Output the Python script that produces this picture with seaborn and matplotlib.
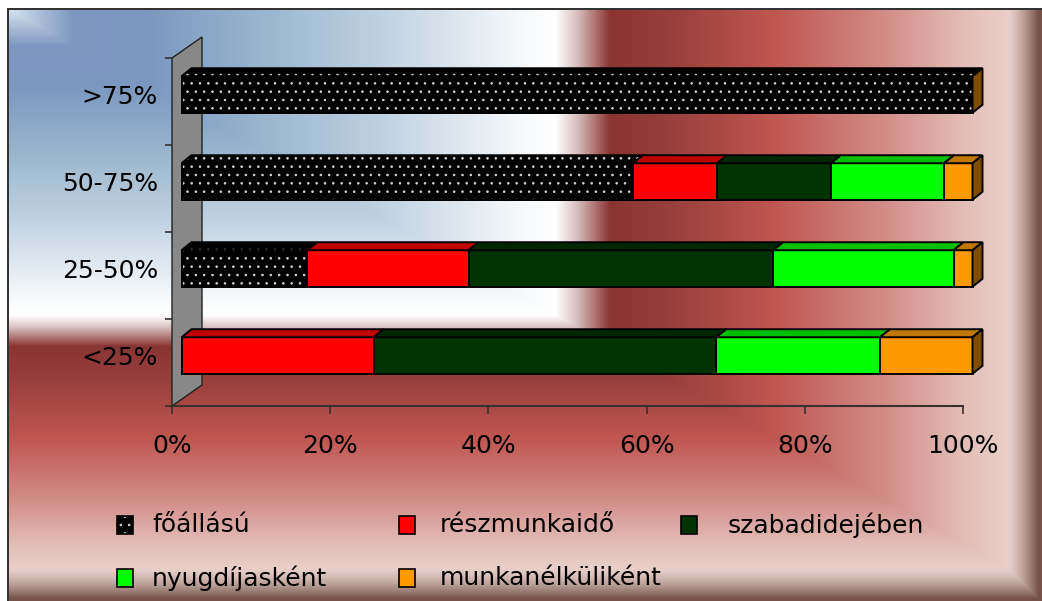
import numpy as np
import matplotlib
matplotlib.use('Agg')
import matplotlib.pyplot as plt
from matplotlib.patches import Polygon, Rectangle
from matplotlib.transforms import ScaledTranslation, IdentityTransform
import seaborn as sns

# categories (top to bottom) and stacked shares in percent
categories = [">75%", "50-75%", "25-50%", "<25%"]
series_names = ["főállású", "részmunkaidő", "szabadidejében", "nyugdíjasként", "munkanélküliként"]
foallasu = [100.0, 57.1, 15.9, 0.0]
reszmunkaido = [0.0, 10.6, 20.4, 24.3]
szabadidejeben = [0.0, 14.4, 38.5, 43.3]
nyugdijaskent = [0.0, 14.3, 22.8, 20.7]
munkanelkulikent = [0.0, 3.6, 2.4, 11.7]
x_ticks = [0, 20, 40, 60, 80, 100]
x_tick_labels = ["0%", "20%", "40%", "60%", "80%", "100%"]

front_colors = ["#000000", "#ff0000", "#003300", "#00ff00", "#ff9900"]
top_colors = ["#000000", "#c00000", "#002800", "#00c000", "#c07800"]
side_color = "#7f4c00"

W, H = 1042, 601
BAR_W = 0.42
SHIFT = (9.5, 7.0)   # bar front plane vs axis plane, pixels
DEPTH = (10.0, 8.0)  # bar depth, pixels
WALL = (30.0, 21.0)  # wall depth, pixels

sns.set_style("white")
plt.rcParams['font.family'] = ['DejaVu Sans']
plt.rcParams['text.color'] = 'black'
plt.rcParams['hatch.linewidth'] = 0.6

fig = plt.figure(figsize=(W / 100, H / 100), dpi=100)

# ---- background gradient (chart area fill) ----
yy, xx = np.mgrid[0:H, 0:W]
t = np.maximum((xx - 8) / 547.0, (yy - 9) / 306.0)
stops = [0.0, 0.12, 0.25, 0.45, 0.7, 0.93, 1.0, 1.04, 1.1, 1.2, 1.4, 1.6, 1.75, 1.9]
cols = np.array([
    (215, 228, 238), (125, 150, 192), (122, 152, 192), (150, 180, 205),
    (195, 212, 226), (245, 248, 250), (255, 255, 255), (215, 190, 190),
    (138, 52, 50), (150, 62, 58), (192, 86, 80), (210, 140, 135),
    (228, 190, 185), (238, 222, 216)], dtype=float)
rgb = np.stack([np.interp(t, stops, cols[:, k]) for k in range(3)], axis=-1) / 255.0
s = np.maximum(np.clip((xx - 1008) / 30.0, 0, 1), np.clip((yy - 568) / 30.0, 0, 1))
s = s ** 1.3
brown = np.array([118, 82, 74]) / 255.0
rgb = rgb * (1 - s[..., None]) + brown * s[..., None]
rgb[:8, :] = 1.0
rgb[:, :7] = 1.0
rgb[8:10, 7:] = 0.2
rgb[8:, 7:9] = 0.2

bg = fig.add_axes([0, 0, 1, 1])
bg.imshow(rgb, aspect='auto', interpolation='bilinear')
bg.axis('off')
bg.set_zorder(0)

# ---- main axes (axis plane) ----
ax = fig.add_axes([172 / W, (H - 406) / H, 791 / W, 348 / H])
ax.set_facecolor('none')
ax.set_zorder(1)

stack = np.array([foallasu, reszmunkaido, szabadidejeben, nyugdijaskent, munkanelkulikent])
cum = np.cumsum(stack, axis=0)

bar_patches = []
for k in range(4, -1, -1):
    n0 = len(ax.patches)
    sns.barplot(x=cum[k], y=categories, order=categories, orient='h',
                color=front_colors[k], saturation=1, width=BAR_W,
                edgecolor='black', linewidth=1.4, ax=ax)
    new = ax.patches[n0:]
    if k == 0:
        for p in new:
            p.set_edgecolor('#d8d8d8')
            p.set_linewidth(0)
            p.set_hatch('..')
        n1 = len(ax.patches)
        sns.barplot(x=cum[k], y=categories, order=categories, orient='h',
                    color='black', fill=False, width=BAR_W, linewidth=1.4, ax=ax)
        new = new + ax.patches[n1:]
    bar_patches.extend(new)

ax.set_xlim(0, 100)
ax.set_ylim(len(categories) - 0.5, -0.5)

offset = ScaledTranslation(SHIFT[0] / 100, SHIFT[1] / 100, fig.dpi_scale_trans)
for p in bar_patches:
    p.set_transform(ax.transData + offset)
    p.set_clip_on(False)
    p.set_zorder(3)

# ---- grey side wall ----
a0 = ax.transAxes.transform((0, 0))
a1 = ax.transAxes.transform((0, 1))
wall = Polygon([a0, a1, a1 + WALL, a0 + WALL], closed=True, facecolor='#888888',
               edgecolor='#222222', linewidth=1.0, transform=IdentityTransform(),
               clip_on=False, zorder=2)
ax.add_patch(wall)

# ---- 3D top and side faces of the bars ----
trans = ax.transData + offset
d = np.array(DEPTH)
for i in range(len(categories)):
    y_top = i - BAR_W / 2
    y_bot = i + BAR_W / 2
    for k in range(stack.shape[0]):
        if stack[k, i] <= 0:
            continue
        x0 = cum[k, i] - stack[k, i]
        x1 = cum[k, i]
        p0 = trans.transform((x0, y_top))
        p1 = trans.transform((x1, y_top))
        verts = [p0, p1, p1 + d, p0 + d]
        if k == 0:
            ax.add_patch(Polygon(verts, closed=True, facecolor='black', edgecolor='#d8d8d8',
                                 hatch='..', linewidth=0, transform=IdentityTransform(),
                                 clip_on=False, zorder=3))
            ax.add_patch(Polygon(verts, closed=True, fill=False, edgecolor='black',
                                 linewidth=1.4, transform=IdentityTransform(),
                                 clip_on=False, zorder=3))
        else:
            ax.add_patch(Polygon(verts, closed=True, facecolor=top_colors[k],
                                 edgecolor='black', linewidth=1.4,
                                 transform=IdentityTransform(), clip_on=False, zorder=3))
    pt = trans.transform((cum[-1, i], y_top))
    pb = trans.transform((cum[-1, i], y_bot))
    ax.add_patch(Polygon([pt, pt + d, pb + d, pb], closed=True, facecolor=side_color,
                         edgecolor='black', linewidth=1.4, transform=IdentityTransform(),
                         clip_on=False, zorder=3))

# ---- axes styling ----
for sp in ['top', 'right', 'left']:
    ax.spines[sp].set_visible(False)
ax.spines['bottom'].set_color('#3a3030')
ax.spines['bottom'].set_linewidth(1.5)

ax.set_xticks(x_ticks, labels=x_tick_labels)
ax.tick_params(axis='x', bottom=True, direction='out', length=6, width=1.2,
               color='#3a3030', labelsize=18, pad=14, labelcolor='black')
ax.set_yticks([i - SHIFT[1] / 87.0 for i in range(len(categories))], labels=categories)
ax.set_yticks([i - 0.5 for i in range(len(categories) + 1)], minor=True)
ax.tick_params(axis='y', which='major', left=True, length=0, labelsize=18, pad=10,
               labelcolor='black')
ax.tick_params(axis='y', which='minor', left=True, direction='out', length=5, width=1.2,
               color='#3a3030')
ax.set_xlabel('')
ax.set_ylabel('')

# ---- legend (fixed column grid) ----
marker_x = [117, 399, 681]
text_x = [152, 440, 728]
row_y = [525, 578]
for j, name in enumerate(series_names):
    col, row = j % 3, j // 3
    mx = marker_x[col]
    my = row_y[row]
    rect_xy = (mx / W, (H - my - 9) / H)
    if j == 0:
        fig.add_artist(Rectangle(rect_xy, 16 / W, 18 / H, transform=fig.transFigure,
                                 facecolor='black', edgecolor='#d8d8d8', hatch='..',
                                 linewidth=0, zorder=5))
        fig.add_artist(Rectangle(rect_xy, 16 / W, 18 / H, transform=fig.transFigure,
                                 fill=False, edgecolor='black', linewidth=1.2, zorder=5))
    else:
        fig.add_artist(Rectangle(rect_xy, 16 / W, 18 / H, transform=fig.transFigure,
                                 facecolor=front_colors[j], edgecolor='black',
                                 linewidth=1.2, zorder=5))
    fig.text(text_x[col] / W, (H - my) / H, name, fontsize=18, va='center', ha='left',
             color='black', zorder=5)

fig.savefig('out.png', dpi=100)
